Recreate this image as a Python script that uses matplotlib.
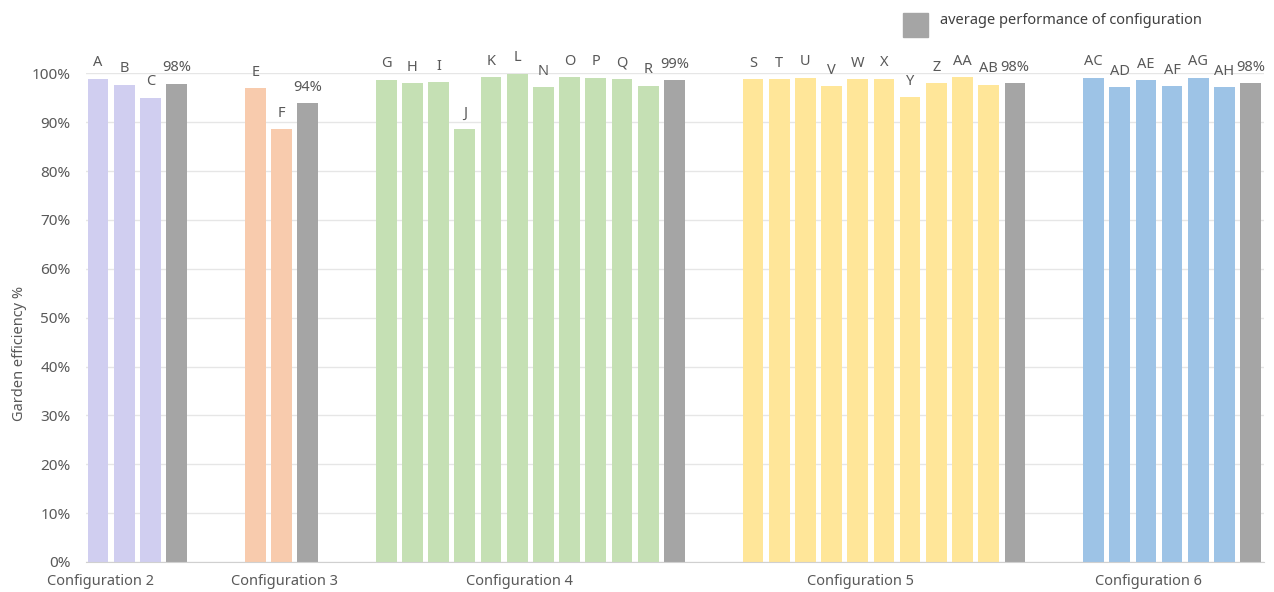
import matplotlib
matplotlib.use("Agg")
import matplotlib.pyplot as plt
from matplotlib.patches import Rectangle
from matplotlib.ticker import PercentFormatter

plt.rcParams['font.family'] = ['Noto Sans', 'DejaVu Sans']

# data (garden efficiency, %)
config_names = ["Configuration 2", "Configuration 3", "Configuration 4",
                "Configuration 5", "Configuration 6"]
config_colors = ["#d0cef0", "#f8cbad", "#c5e0b4", "#ffe699", "#9dc3e6"]

gardens_2 = ["A", "B", "C"]
values_2 = [98.9, 97.7, 95.0]
gardens_3 = ["E", "F"]
values_3 = [96.9, 88.6]
gardens_4 = ["G", "H", "I", "J", "K", "L", "N", "O", "P", "Q", "R"]
values_4 = [98.7, 98.0, 98.2, 88.5, 99.2, 99.9, 97.1, 99.2, 99.1, 98.9, 97.5]
gardens_5 = ["S", "T", "U", "V", "W", "X", "Y", "Z", "AA", "AB"]
values_5 = [98.8, 98.8, 99.1, 97.3, 98.8, 98.9, 95.1, 98.0, 99.2, 97.7]
gardens_6 = ["AC", "AD", "AE", "AF", "AG", "AH"]
values_6 = [99.1, 97.1, 98.6, 97.3, 99.1, 97.1]

averages = [97.9, 93.9, 98.6, 98.0, 98.0]
# index of the bar inside each group under which the group name sits
label_bar = [0, 1, 5, 4, 2]

groups = [(gardens_2, values_2), (gardens_3, values_3), (gardens_4, values_4),
          (gardens_5, values_5), (gardens_6, values_6)]

text_color = "#595959"
avg_color = "#a5a5a5"

fig = plt.figure(figsize=(12.74, 5.92), dpi=100)
ax = fig.add_axes([0.0675, 0.0507, 0.9245, 0.8255])

pos = 0
tick_pos = []
for (names, vals), color, avg, lb in zip(groups, config_colors, averages, label_bar):
    xs = list(range(pos, pos + len(names)))
    ax.bar(xs, vals, width=0.79, color=color, zorder=2)
    for x, v, n in zip(xs, vals, names):
        ax.annotate(n, (x, v), xytext=(0, 6), textcoords="offset points",
                    ha="center", va="bottom", fontsize=10.5, color=text_color,
                    annotation_clip=False)
    xa = pos + len(names)
    ax.bar(xa, avg, width=0.79, color=avg_color, zorder=2)
    ax.annotate(f"{avg:.0f}%", (xa, avg), xytext=(0, 6), textcoords="offset points",
                ha="center", va="bottom", fontsize=10.5, color=text_color,
                annotation_clip=False)
    tick_pos.append(xs[lb] + 0.1)
    pos = xa + 3

ax.set_xlim(-0.46, pos - 3 + 0.5)
ax.set_ylim(0, 100)
ax.set_yticks(range(0, 101, 10))
ax.yaxis.set_major_formatter(PercentFormatter(decimals=0))
ax.set_xticks(tick_pos)
ax.set_xticklabels(config_names)
ax.tick_params(axis="y", length=0, pad=11, labelsize=11, labelcolor=text_color)
ax.tick_params(axis="x", length=0, pad=9, labelsize=10.5, labelcolor=text_color)
ax.grid(axis="y", color="#e6e6e6", linewidth=1, zorder=0)
for s in ["top", "right", "left"]:
    ax.spines[s].set_visible(False)
ax.spines["bottom"].set_color("#d0d0d0")
ax.spines["bottom"].set_zorder(3)

fig.text(20 / 1274, 1 - 353 / 592, "Garden efficiency %", rotation=90,
         ha="center", va="center", fontsize=10.5, color=text_color)

# legend
fig.add_artist(Rectangle((903 / 1274, 1 - 37 / 592), 25 / 1274, 24 / 592,
                         transform=fig.transFigure, color=avg_color))
fig.text(940 / 1274, 1 - 21 / 592, "average performance of configuration",
         ha="left", va="center", fontsize=10.5, color="#404040")

fig.savefig("out.png", dpi=100)
